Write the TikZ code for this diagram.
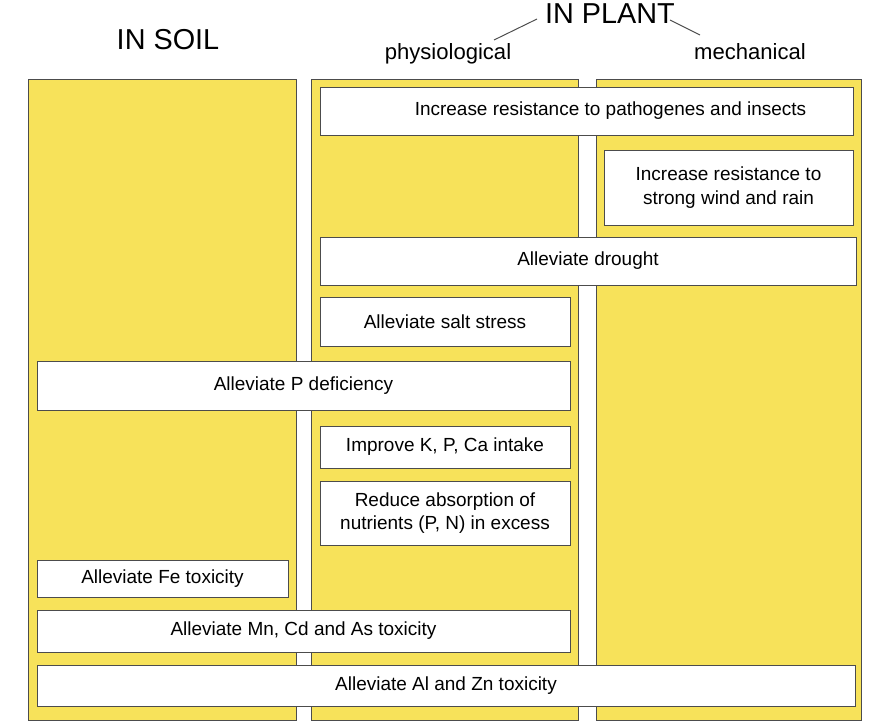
\documentclass[tikz,border=0pt]{standalone}
\usepackage{fontspec}
\setmainfont{Liberation Sans}
\usetikzlibrary{positioning}
\definecolor{soilyellow}{HTML}{F7E25A}
\begin{document}
\begin{tikzpicture}[x=0.025cm,y=-0.025cm,
    column/.style={rectangle,draw=black!70,fill=soilyellow,line width=0.6pt},
    effect/.style={rectangle,draw=black!70,fill=white,line width=0.6pt,align=center,font=\fontsize{13.5}{16.5}\selectfont,inner sep=0pt},
    header/.style={font=\fontsize{20.5}{22}\selectfont},
    subheader/.style={font=\fontsize{15.7}{17}\selectfont},
    link/.style={draw=black!70,line width=0.7pt}
]
\useasboundingbox (0,0) rectangle (894,723);

% columns
\draw[column] (28,79) rectangle (296,720);
\draw[column] (311,79) rectangle (578,720);
\draw[column] (596,79) rectangle (861,720);

% headers
\node[header] (soil) at (168,40) {IN SOIL};
\node[header] (plant) at (610,14) {IN PLANT};
\node[subheader] (physio) at (448,54) {physiological};
\node[subheader] (mech) at (750,52) {mechanical};
\coordinate (pl) at (537,19);
\coordinate (pr) at (670,20);
\coordinate (phy) at (494,40);
\coordinate (mec) at (700,35);
\draw[link] (pl) -- (phy);
\draw[link] (pr) -- (mec);

% effects (x1,y1,x2,y2 in px)
\foreach \n/\xa/\ya/\xb/\yb/\t in {
    pathogen/320/87/853/135/{\hspace*{1.2cm}Increase resistance to pathogenes and insects},
    wind/604/150/853/225/{Increase resistance to\\strong wind and rain},
    drought/320/237/856/285/{Alleviate drought},
    salt/320/297/570/346/{Alleviate salt stress},
    pdef/37/361/570/410/{Alleviate P deficiency},
    intake/320/426/570/468/{Improve K, P, Ca intake},
    excess/320/481/570/545/{Reduce absorption of\\nutrients (P, N) in excess},
    fe/37/560/288/597/{Alleviate Fe toxicity},
    mncd/37/610/570/652/{Alleviate Mn, Cd and As toxicity},
    alzn/37/665/855/706/{Alleviate Al and Zn toxicity}} {
    \pgfmathsetmacro\w{(\xb-\xa)*0.025}
    \pgfmathsetmacro\h{(\yb-\ya)*0.025}
    \node[effect,minimum width=\w cm,minimum height=\h cm] (\n) at ({(\xa+\xb)/2},{(\ya+\yb)/2}) {\t};
}
\end{tikzpicture}
\end{document}
